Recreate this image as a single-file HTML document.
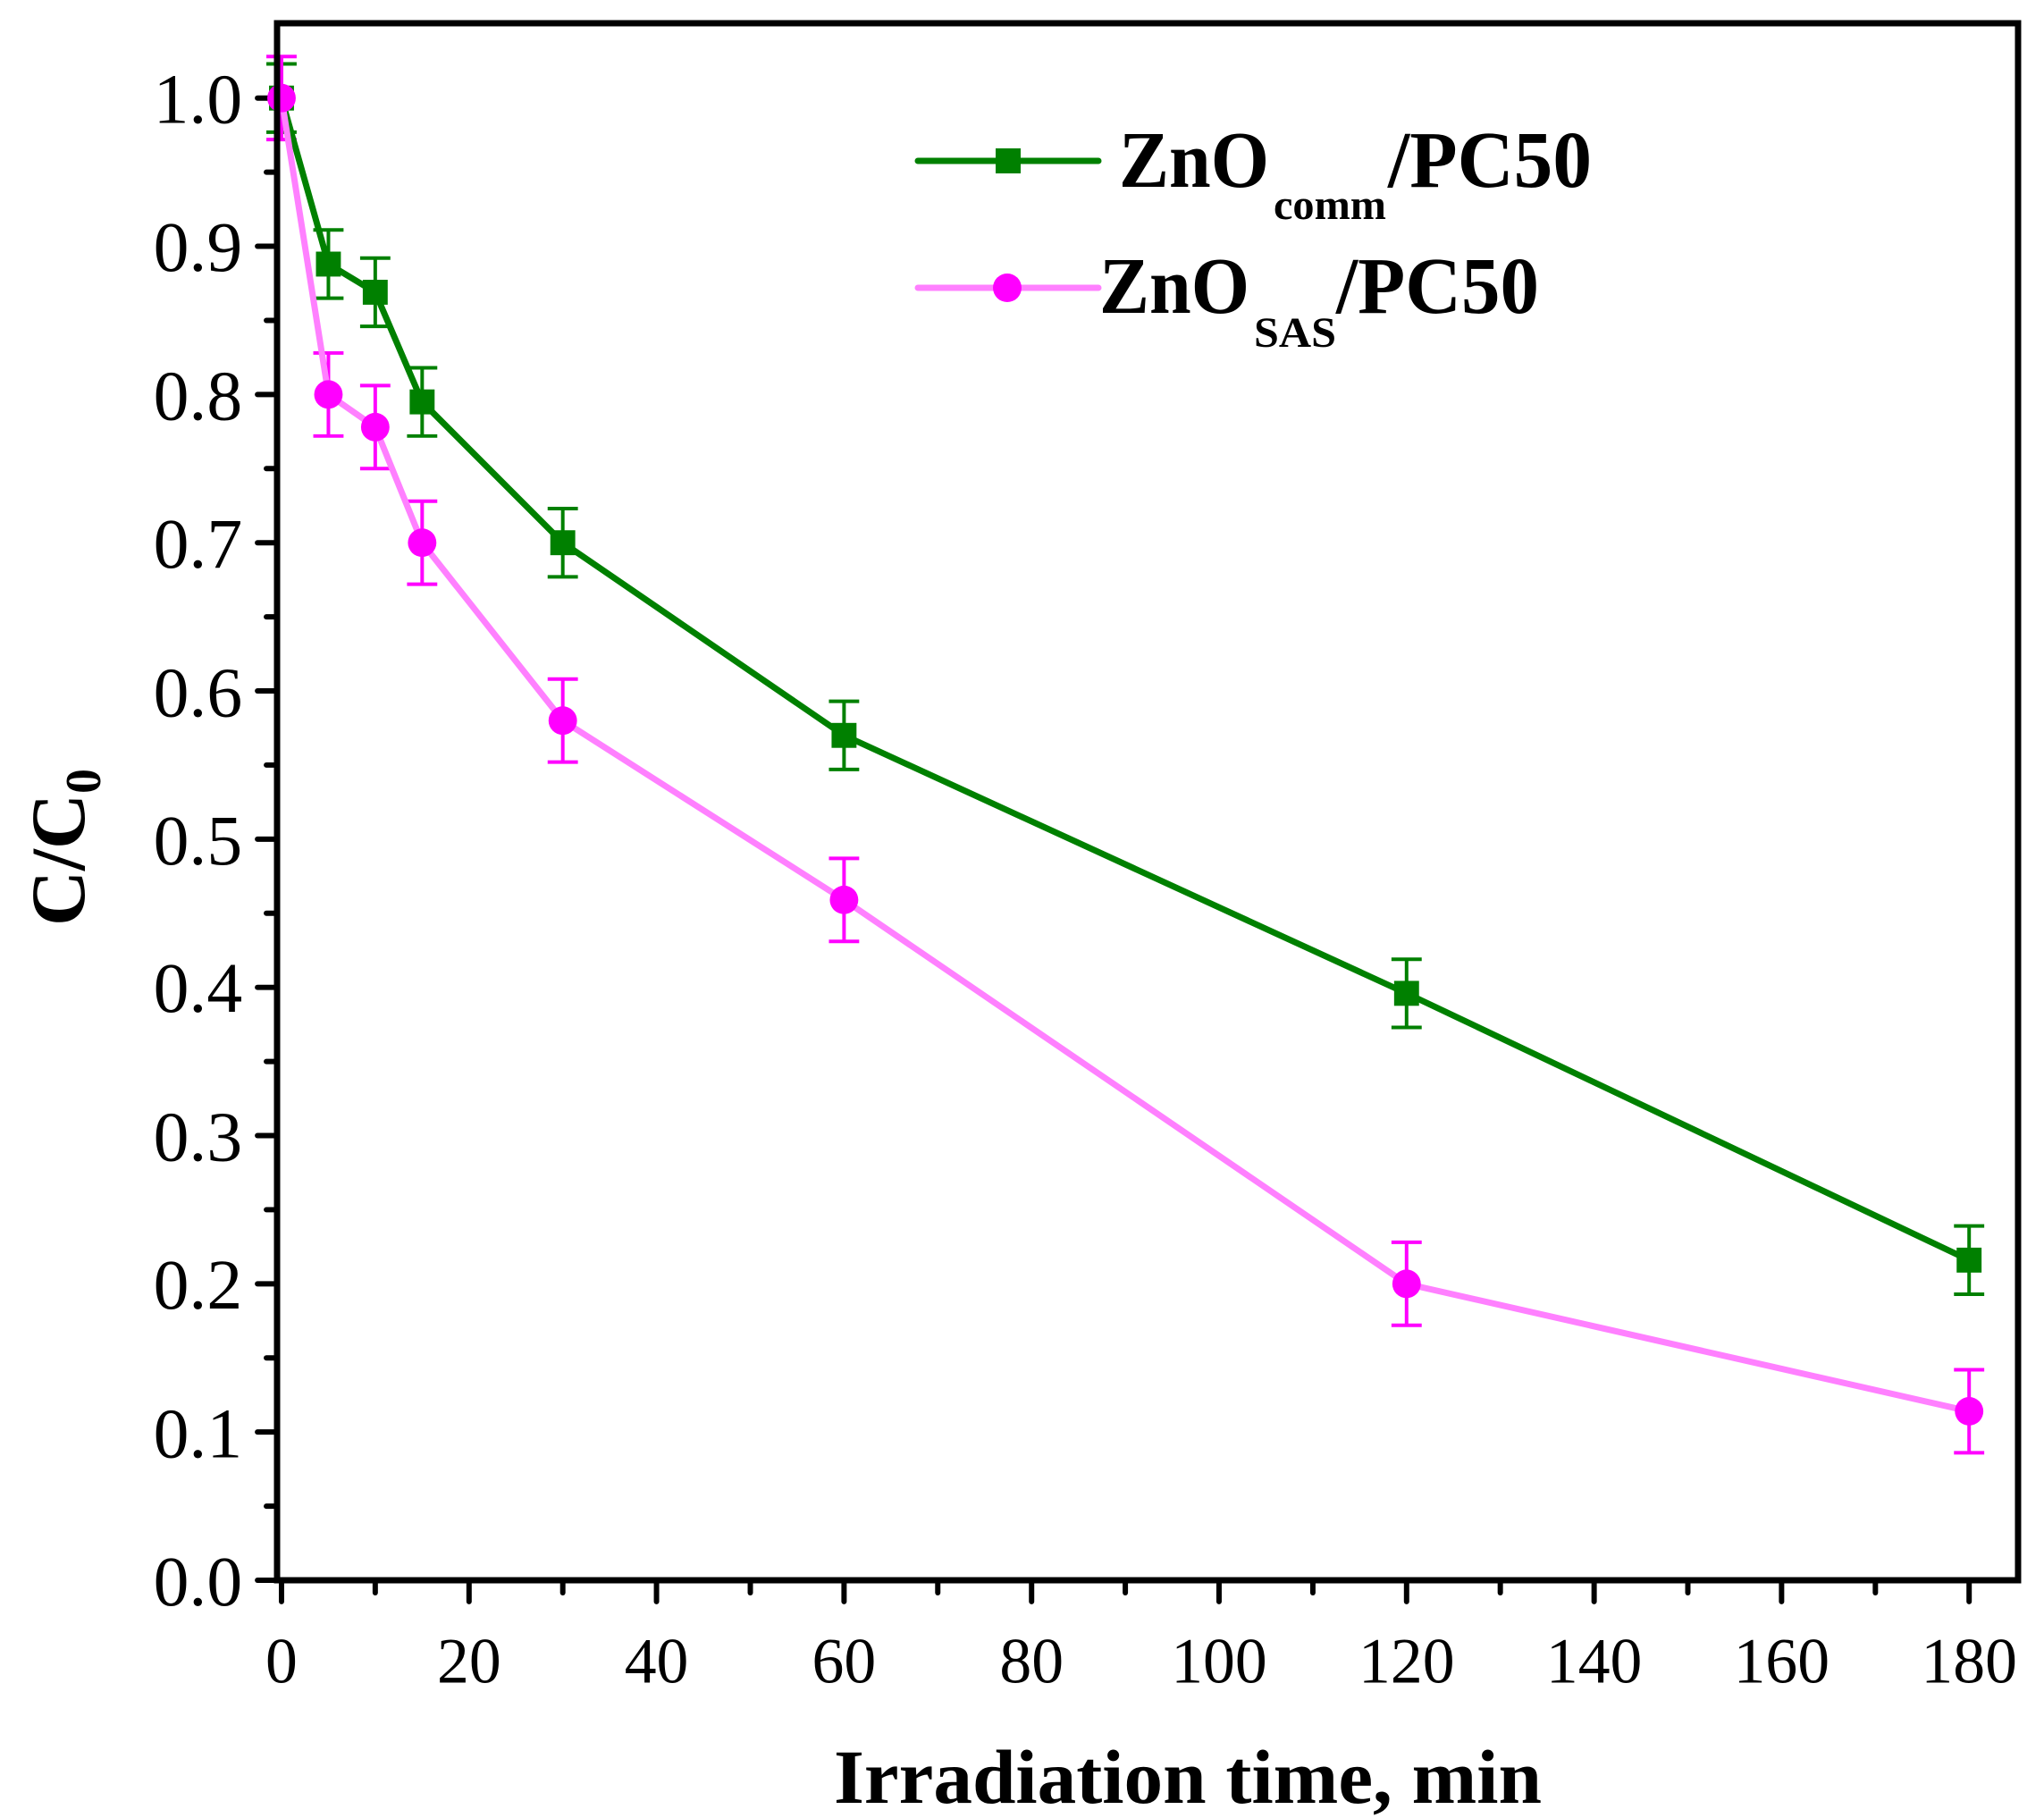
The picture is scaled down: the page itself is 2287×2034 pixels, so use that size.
<!DOCTYPE html>
<html><head><meta charset="utf-8"><style>html,body{margin:0;padding:0;background:#fff}svg{display:block}</style></head>
<body>
<svg width="2287" height="2034" viewBox="0 0 2287 2034" xmlns="http://www.w3.org/2000/svg" font-family="Liberation Serif, serif">
<rect width="2287" height="2034" fill="#fff"/>
<g transform="translate(1.27,0.09) scale(0.9959,0.99657)">
<g stroke="#000" stroke-width="6" stroke-linecap="round">
<line x1="288" y1="1774" x2="310" y2="1774"/><line x1="298" y1="1690.8" x2="310" y2="1690.8"/>
<line x1="288" y1="1607.6" x2="310" y2="1607.6"/><line x1="298" y1="1524.4" x2="310" y2="1524.4"/>
<line x1="288" y1="1441.2" x2="310" y2="1441.2"/><line x1="298" y1="1358" x2="310" y2="1358"/>
<line x1="288" y1="1274.8" x2="310" y2="1274.8"/><line x1="298" y1="1191.6" x2="310" y2="1191.6"/>
<line x1="288" y1="1108.4" x2="310" y2="1108.4"/><line x1="298" y1="1025.2" x2="310" y2="1025.2"/>
<line x1="288" y1="942" x2="310" y2="942"/><line x1="298" y1="858.8" x2="310" y2="858.8"/>
<line x1="288" y1="775.6" x2="310" y2="775.6"/><line x1="298" y1="692.4" x2="310" y2="692.4"/>
<line x1="288" y1="609.2" x2="310" y2="609.2"/><line x1="298" y1="526" x2="310" y2="526"/>
<line x1="288" y1="442.8" x2="310" y2="442.8"/><line x1="298" y1="359.6" x2="310" y2="359.6"/>
<line x1="288" y1="276.4" x2="310" y2="276.4"/><line x1="298" y1="193.2" x2="310" y2="193.2"/>
<line x1="288" y1="110" x2="310" y2="110"/>
<line x1="315" y1="1774" x2="315" y2="1798"/><line x1="420.3" y1="1774" x2="420.3" y2="1788"/>
<line x1="525.7" y1="1774" x2="525.7" y2="1798"/><line x1="631" y1="1774" x2="631" y2="1788"/>
<line x1="736.3" y1="1774" x2="736.3" y2="1798"/><line x1="841.7" y1="1774" x2="841.7" y2="1788"/>
<line x1="947" y1="1774" x2="947" y2="1798"/><line x1="1052.3" y1="1774" x2="1052.3" y2="1788"/>
<line x1="1157.7" y1="1774" x2="1157.7" y2="1798"/><line x1="1263" y1="1774" x2="1263" y2="1788"/>
<line x1="1368.3" y1="1774" x2="1368.3" y2="1798"/><line x1="1473.7" y1="1774" x2="1473.7" y2="1788"/>
<line x1="1579" y1="1774" x2="1579" y2="1798"/><line x1="1684.3" y1="1774" x2="1684.3" y2="1788"/>
<line x1="1789.7" y1="1774" x2="1789.7" y2="1798"/><line x1="1895" y1="1774" x2="1895" y2="1788"/>
<line x1="2000.3" y1="1774" x2="2000.3" y2="1798"/><line x1="2105.7" y1="1774" x2="2105.7" y2="1788"/>
<line x1="2211" y1="1774" x2="2211" y2="1798"/>
</g>
<g font-size="80" fill="#000" text-anchor="end">
<text x="271" y="1802">0.0</text><text x="271" y="1636">0.1</text><text x="271" y="1469">0.2</text>
<text x="271" y="1303">0.3</text><text x="271" y="1136">0.4</text><text x="271" y="970">0.5</text>
<text x="271" y="804">0.6</text><text x="271" y="637">0.7</text><text x="271" y="471">0.8</text>
<text x="271" y="304">0.9</text><text x="271" y="138">1.0</text>
</g>
<g font-size="72" fill="#000" text-anchor="middle">
<text x="315" y="1889">0</text><text x="525.7" y="1889">20</text><text x="736.3" y="1889">40</text>
<text x="947" y="1889">60</text><text x="1157.7" y="1889">80</text><text x="1368.3" y="1889">100</text>
<text x="1579" y="1889">120</text><text x="1789.7" y="1889">140</text><text x="2000.3" y="1889">160</text>
<text x="2211" y="1889">180</text>
</g>
<path fill="none" stroke="#008000" stroke-width="4" d="
M315 71.7V148.3M298 71.7H332M298 148.3H332
M367.7 258.1V334.7M350.7 258.1H384.7M350.7 334.7H384.7
M420.3 289.7V366.3M403.3 289.7H437.3M403.3 366.3H437.3
M473 412.8V489.4M456 412.8H490M456 489.4H490
M631 570.9V647.5M614 570.9H648M614 647.5H648
M947 787.2V863.8M930 787.2H964M930 863.8H964
M1579 1076.8V1153.4M1562 1076.8H1596M1562 1153.4H1596
M2211 1376.3V1452.9M2194 1376.3H2228M2194 1452.9H2228"/>
<path fill="none" stroke="#ff00ff" stroke-width="4" d="
M315 63.4V156.6M298 63.4H332M298 156.6H332
M367.7 396.2V489.4M350.7 396.2H384.7M350.7 489.4H384.7
M420.3 432.8V526M403.3 432.8H437.3M403.3 526H437.3
M473 562.6V655.8M456 562.6H490M456 655.8H490
M631 762.3V855.5M614 762.3H648M614 855.5H648
M947 963.6V1056.8M930 963.6H964M930 1056.8H964
M1579 1394.6V1487.8M1562 1394.6H1596M1562 1487.8H1596
M2211 1537.7V1630.9M2194 1537.7H2228M2194 1630.9H2228"/>
<polyline fill="none" stroke="#008000" stroke-width="7" stroke-linejoin="round" points="315,110 367.7,296.4 420.3,328 473,451.1 631,609.2 947,825.5 1579,1115.1 2211,1414.6"/>
<polyline fill="none" stroke="#ff80ff" stroke-width="7" stroke-linejoin="round" points="315,110 367.7,442.8 420.3,479.4 473,609.2 631,808.9 947,1010.2 1579,1441.2 2211,1584.3"/>
<g fill="#008000">
<rect x="301" y="96" width="28" height="28"/><rect x="353.7" y="282.4" width="28" height="28"/>
<rect x="406.3" y="314" width="28" height="28"/><rect x="459" y="437.1" width="28" height="28"/>
<rect x="617" y="595.2" width="28" height="28"/><rect x="933" y="811.5" width="28" height="28"/>
<rect x="1565" y="1101.1" width="28" height="28"/><rect x="2197" y="1400.6" width="28" height="28"/>
</g>
<g fill="#ff00ff">
<circle cx="315" cy="110" r="16"/><circle cx="367.7" cy="442.8" r="16"/>
<circle cx="420.3" cy="479.4" r="16"/><circle cx="473" cy="609.2" r="16"/>
<circle cx="631" cy="808.9" r="16"/><circle cx="947" cy="1010.2" r="16"/>
<circle cx="1579" cy="1441.2" r="16"/><circle cx="2211" cy="1584.3" r="16"/>
</g>
<rect x="310" y="26" width="1956" height="1748" fill="none" stroke="#000" stroke-width="7"/>
</g>
<line x1="1027" y1="180" x2="1229" y2="180" stroke="#008000" stroke-width="7" stroke-linecap="round"/>
<rect x="1114" y="166" width="28" height="28" fill="#008000"/>
<text x="1252" y="209" font-size="90" font-weight="bold" textLength="168" lengthAdjust="spacingAndGlyphs">ZnO</text>
<text x="1425" y="245" font-size="48" font-weight="bold" textLength="126" lengthAdjust="spacingAndGlyphs">comm</text>
<text x="1553" y="209" font-size="90" font-weight="bold" textLength="228" lengthAdjust="spacingAndGlyphs">/PC50</text>
<line x1="1027" y1="322" x2="1229" y2="322" stroke="#ff80ff" stroke-width="7" stroke-linecap="round"/>
<circle cx="1127" cy="322" r="16" fill="#ff00ff"/>
<text x="1230" y="350" font-size="90" font-weight="bold" textLength="168" lengthAdjust="spacingAndGlyphs">ZnO</text>
<text x="1403" y="388" font-size="48" font-weight="bold" textLength="92" lengthAdjust="spacingAndGlyphs">SAS</text>
<text x="1495" y="350" font-size="90" font-weight="bold" textLength="227" lengthAdjust="spacingAndGlyphs">/PC50</text>
<text x="1329" y="2017" font-size="86" font-weight="bold" text-anchor="middle" textLength="792" lengthAdjust="spacingAndGlyphs">Irradiation time, min</text>
<g transform="translate(94,948) rotate(-90)">
<text x="0" y="0" font-size="86" font-weight="bold" text-anchor="middle">C/C<tspan font-size="56" dy="18">0</tspan></text>
</g>
</svg>
</body></html>
